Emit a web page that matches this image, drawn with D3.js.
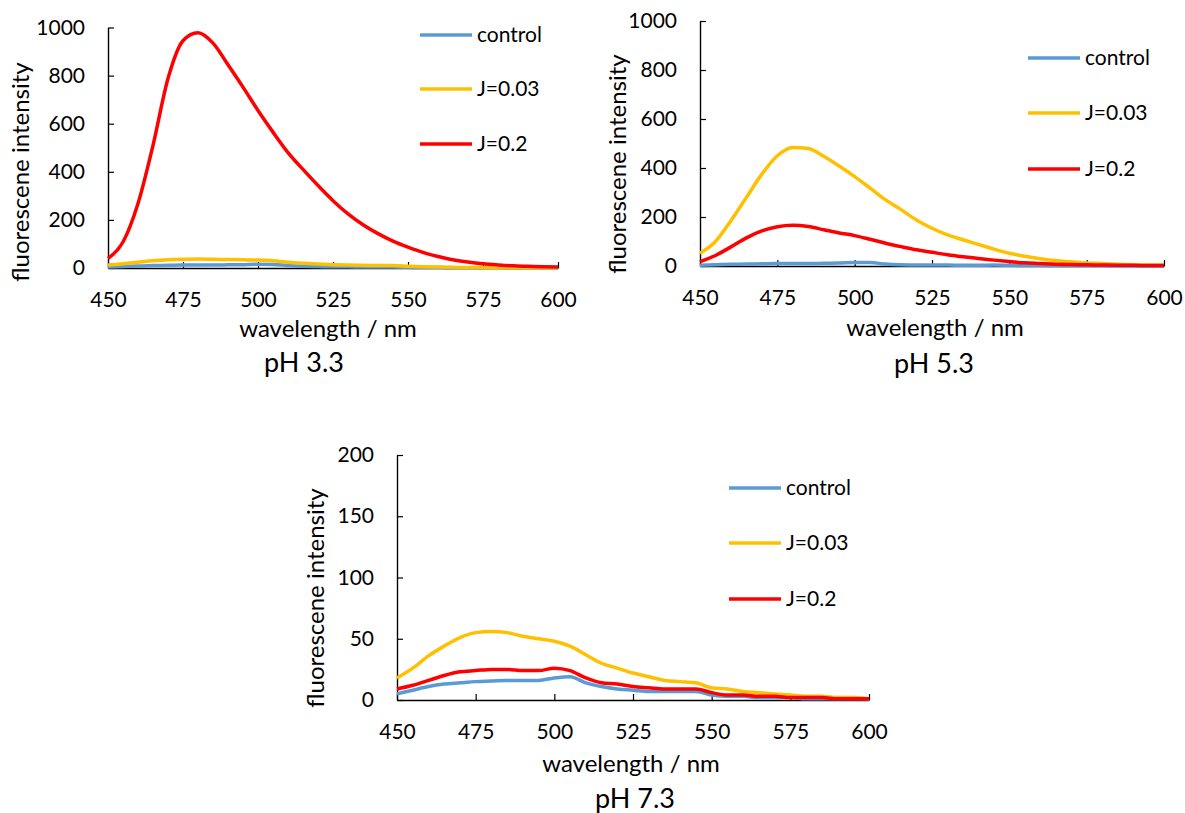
<!DOCTYPE html>
<html>
<head>
<meta charset="utf-8">
<script src="https://cdn.jsdelivr.net/npm/d3@7/dist/d3.min.js"></script>
<style>
  body { margin: 0; background: #fff; }
  text { font-family: Lato, "Liberation Sans", sans-serif; fill: #000; }
</style>
</head>
<body>
<svg id="chart" width="1185" height="813"></svg>
<script>
// spectra, every 5 nm
const wavelength = [450,455,460,465,470,475,480,485,490,495,500,505,510,515,520,525,530,535,540,545,550,555,560,565,570,575,580,585,590,595,600];
const xTicks = [450,475,500,525,550,575,600];
const seriesNames = ["control", "J=0.03", "J=0.2"];
const seriesColors = ["#5B9BD5", "#FFC000", "#FF0000"];

// pH 3.3
const ph33_control = [4,6,8,10,11,12,12,12,13,14,16,15,10,7,6,5,5,4,4,4,3,2,2,1,1,1,1,0,0,0,0];
const ph33_j003    = [12,18,24,30,34,36,37,36,35,34,33,30,24,20,17,14,12,11,10,10,7,5,4,3,2,2,1,1,1,1,1];
const ph33_j02     = [40,108,268,510,788,945,978,935,845,752,655,565,480,410,343,280,225,180,143,112,87,65,48,34,25,18,13,9,7,5,4];
const ph33_yTicks  = [0,200,400,600,800,1000];

// pH 5.3
const ph53_control = [3,5,7,8,9,10,10,10,11,12,14,14,8,5,4,4,4,3,3,4,3,2,2,1,1,1,1,0,0,0,0];
const ph53_j003    = [52,100,185,280,375,450,484,480,448,408,365,318,270,230,188,154,127,107,88,69,52,40,30,22,17,12,10,7,5,4,4];
const ph53_j02     = [18,43,78,115,143,160,166,161,148,135,124,109,93,79,66,56,46,38,31,24,18,13,10,7,6,5,4,3,3,2,2];
const ph53_yTicks  = [0,200,400,600,800,1000];

// pH 7.3
const ph73_control = [5,8,11,13,14,15,15.5,16,16,16,18,19,14,11,9,8,7,7,7,7,4,3,3,2,2,2,1,1,1,1,1];
const ph73_j003    = [18,26,36,44,51,55,56,55,52,50,48,44,37,30,26,22,19,16,15,14,10,9,7,6,5,4,3,3,2,2,1];
const ph73_j02     = [9,12,16,20,23,24,25,25,24,24,26,24,18,14,13,11,10,9,9,9,6,4,4,3,3,2,2,2,1,1,1];
const ph73_yTicks  = [0,50,100,150,200];

const panels = [
  { title: "pH 3.3", series: [ph33_control, ph33_j003, ph33_j02], yTicks: ph33_yTicks,
    left: 108, right: 558, bottom: 268, top: 27.5,
    legendX: 420, legendY: [35, 89, 144], titleX: 304, titleY: 363, xTitleX: 328, xTitleY: 329, yTitleX: 21, yTitleY: 172 },
  { title: "pH 5.3", series: [ph53_control, ph53_j003, ph53_j02], yTicks: ph53_yTicks,
    left: 700, right: 1164, bottom: 266, top: 21,
    legendX: 1028, legendY: [58, 113, 169], titleX: 934, titleY: 364, xTitleX: 935, xTitleY: 328, yTitleX: 618, yTitleY: 164 },
  { title: "pH 7.3", series: [ph73_control, ph73_j003, ph73_j02], yTicks: ph73_yTicks,
    left: 397, right: 869, bottom: 700, top: 455,
    legendX: 729, legendY: [488, 543, 599], titleX: 635, titleY: 799, xTitleX: 631, xTitleY: 764, yTitleX: 316, yTitleY: 598 }
];

const svg = d3.select("#chart");

panels.forEach(p => {
  const g = svg.append("g");

  const x = d3.scaleLinear()
    .domain([xTicks[0], xTicks[xTicks.length - 1]])
    .range([p.left, p.right]);
  const y = d3.scaleLinear()
    .domain([0, p.yTicks[p.yTicks.length - 1]])
    .range([p.bottom, p.top]);

  // axes, ticks pointing inward like Excel
  const xAxis = g.append("g")
    .attr("transform", `translate(0,${p.bottom})`)
    .call(d3.axisBottom(x).tickValues(xTicks).tickFormat(d3.format("d"))
      .tickSize(-6).tickSizeOuter(0).tickPadding(24));
  const yAxis = g.append("g")
    .attr("transform", `translate(${p.left},0)`)
    .call(d3.axisLeft(y).tickValues(p.yTicks).tickFormat(d3.format("d"))
      .tickSize(-6).tickSizeOuter(0).tickPadding(23));

  [xAxis, yAxis].forEach(a => {
    a.selectAll("text").style("font-size", "21px").attr("fill", "#000");
    a.selectAll("line").attr("stroke", "#000").attr("stroke-width", 1.2);
    a.select(".domain").attr("stroke", "#000").attr("stroke-width", 1.4);
  });

  const line = d3.line()
    .x((d, i) => x(wavelength[i]))
    .y(d => y(d))
    .curve(d3.curveMonotoneX);

  p.series.forEach((s, k) => {
    g.append("path")
      .datum(s)
      .attr("fill", "none")
      .attr("stroke", seriesColors[k])
      .attr("stroke-width", 3.5)
      .attr("stroke-linejoin", "round")
      .attr("d", line);
  });

  // legend
  seriesNames.forEach((name, k) => {
    g.append("line")
      .attr("x1", p.legendX).attr("x2", p.legendX + 52)
      .attr("y1", p.legendY[k]).attr("y2", p.legendY[k])
      .attr("stroke", seriesColors[k])
      .attr("stroke-width", 3.5);
    g.append("text")
      .attr("x", p.legendX + 57)
      .attr("y", p.legendY[k])
      .attr("dy", "0.35em")
      .style("font-size", "21px")
      .text(name);
  });

  g.append("text")
    .attr("x", p.xTitleX).attr("y", p.xTitleY)
    .attr("dy", "0.35em")
    .attr("text-anchor", "middle")
    .style("font-size", "24px")
    .text("wavelength / nm");

  g.append("text")
    .attr("transform", `translate(${p.yTitleX},${p.yTitleY}) rotate(-90)`)
    .attr("dy", "0.35em")
    .attr("text-anchor", "middle")
    .style("font-size", "24px")
    .text("fluorescene intensity");

  g.append("text")
    .attr("x", p.titleX).attr("y", p.titleY)
    .attr("dy", "0.35em")
    .attr("text-anchor", "middle")
    .style("font-size", "27px")
    .text(p.title);
});
</script>
</body>
</html>
